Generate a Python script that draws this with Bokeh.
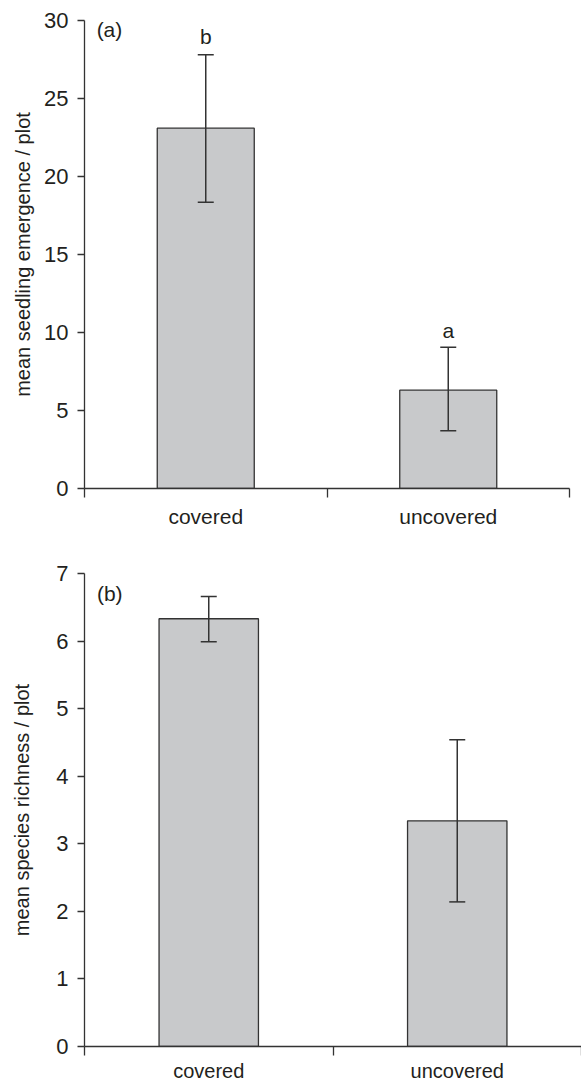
from bokeh.plotting import figure
from bokeh.models import Range1d, FixedTicker, Whisker, TeeHead, ColumnDataSource, Label
from bokeh.layouts import column
from bokeh.embed import file_html
from bokeh.resources import INLINE
from bokeh.core.properties import value

# ---- data ----
categories = ["covered", "uncovered"]

emergence_mean = [23.1, 6.3]
emergence_upper = [27.8, 9.05]
emergence_lower = [18.35, 3.7]
emergence_letters = ["b", "a"]
emergence_letter_y = [28.95, 10.1]
emergence_ticks = [0, 5, 10, 15, 20, 25, 30]

richness_mean = [6.33, 3.34]
richness_upper = [6.66, 4.54]
richness_lower = [5.99, 2.14]
richness_ticks = [0, 1, 2, 3, 4, 5, 6, 7]

FONT = "Liberation Sans"
TXT = "#231f20"
LINE = "#333333"
BAR = "#c8c9cb"


def make_panel(means, upper, lower, ticks, ylabel, tag, tag_y, frame_w, frame_h,
               top, bottom, right, label_standoff, xlabel_standoff, xlabel_size,
               letters=None, letter_y=None):
    xs = [i + 0.5 for i in range(len(categories))]
    p = figure(frame_width=frame_w, frame_height=frame_h,
               x_range=Range1d(0, len(categories)),
               y_range=Range1d(ticks[0], ticks[-1]),
               output_backend="svg", toolbar_location=None,
               min_border_left=84, min_border_right=right,
               min_border_top=top, min_border_bottom=bottom)
    p.outline_line_color = None
    p.xgrid.visible = False
    p.ygrid.visible = False
    p.background_fill_color = "white"
    p.border_fill_color = "white"

    src = ColumnDataSource(dict(x=xs, mean=means, upper=upper, lower=lower))
    p.vbar(x="x", top="mean", bottom=0, width=0.4, source=src,
           fill_color=BAR, line_color=LINE, line_width=1.3)
    p.add_layout(Whisker(source=src, base="x", upper="upper", lower="lower",
                         level="overlay",
                         line_color=LINE, line_width=1.5,
                         upper_head=TeeHead(size=16, line_color=LINE, line_width=1.5),
                         lower_head=TeeHead(size=16, line_color=LINE, line_width=1.5)))

    if letters is not None:
        lsrc = ColumnDataSource(dict(x=xs, y=letter_y, t=letters))
        p.text(x="x", y="y", text="t", source=lsrc, text_align="center",
               text_baseline="middle", text_font=value(FONT),
               text_font_size="21px", text_color=TXT)

    p.add_layout(Label(x=0.05, y=tag_y, text=tag, text_baseline="middle",
                       text_font=FONT, text_font_size="21px", text_color=TXT))

    # y axis
    ya = p.yaxis[0]
    ya.ticker = FixedTicker(ticks=ticks)
    ya.axis_label = ylabel
    ya.axis_label_text_font = FONT
    ya.axis_label_text_font_size = "20px"
    ya.axis_label_text_font_style = "normal"
    ya.axis_label_text_color = TXT
    ya.axis_label_standoff = label_standoff
    ya.major_label_text_font = FONT
    ya.major_label_text_font_size = "22px"
    ya.major_label_text_color = TXT
    ya.major_label_standoff = 9
    ya.major_tick_out = 7
    ya.major_tick_in = 0
    ya.minor_tick_out = 0
    ya.minor_tick_in = 0
    ya.axis_line_color = LINE
    ya.axis_line_width = 1.3
    ya.major_tick_line_color = LINE
    ya.major_tick_line_width = 1.3

    # x axis
    xa = p.xaxis[0]
    xa.ticker = FixedTicker(ticks=xs, minor_ticks=list(range(len(categories) + 1)))
    xa.major_label_overrides = {x: c for x, c in zip(xs, categories)}
    xa.major_label_text_font = FONT
    xa.major_label_text_font_size = xlabel_size
    xa.major_label_text_color = TXT
    xa.major_label_standoff = xlabel_standoff
    xa.major_tick_out = 0
    xa.major_tick_in = 0
    xa.minor_tick_out = 9
    xa.minor_tick_in = 0
    xa.minor_tick_line_color = LINE
    xa.minor_tick_line_width = 1.3
    xa.axis_line_color = LINE
    xa.axis_line_width = 1.3
    return p


p1 = make_panel(emergence_mean, emergence_upper, emergence_lower, emergence_ticks,
                "mean seedling emergence / plot", "(a)", 29.44,
                frame_w=485, frame_h=468, top=20, bottom=52, right=5,
                label_standoff=7, xlabel_standoff=7, xlabel_size="21px",
                letters=emergence_letters, letter_y=emergence_letter_y)
p2 = make_panel(richness_mean, richness_upper, richness_lower, richness_ticks,
                "mean species richness / plot", "(b)", 6.70,
                frame_w=497, frame_h=473, top=33, bottom=36, right=0,
                label_standoff=20, xlabel_standoff=4, xlabel_size="20px")

layout = column(p1, p2, spacing=0)
open("out.html", "w").write(file_html(layout, INLINE))
